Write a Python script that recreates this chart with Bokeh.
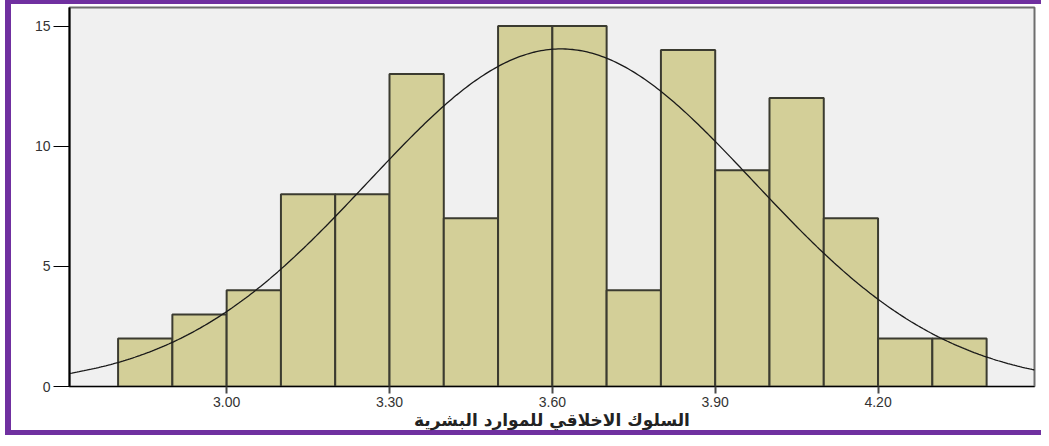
import numpy as np
from bokeh.plotting import figure
from bokeh.models import Range1d, FixedTicker, PrintfTickFormatter, ColumnDataSource
from bokeh.embed import file_html
from bokeh.resources import INLINE

# ---- data ----
bin_left = [2.8, 2.9, 3.0, 3.1, 3.2, 3.3, 3.4, 3.5, 3.6, 3.7, 3.8, 3.9, 4.0, 4.1, 4.2, 4.3]
bin_right = [2.9, 3.0, 3.1, 3.2, 3.3, 3.4, 3.5, 3.6, 3.7, 3.8, 3.9, 4.0, 4.1, 4.2, 4.3, 4.4]
counts = [2, 3, 4, 8, 8, 13, 7, 15, 15, 4, 14, 9, 12, 7, 2, 2]
x_ticks = [3.0, 3.3, 3.6, 3.9, 4.2]
y_ticks = [0, 5, 10, 15]
x_label = "السلوك الاخلاقي للموارد البشرية"
fit_mean = 3.616
fit_sd = 0.355
bin_width = 0.1

X0, X1 = 2.7105, 4.4882
Y0, Y1 = 0, 15.77

W, H = 1041, 438
p = figure(width=W, height=H, output_backend="svg", toolbar_location=None,
           x_range=Range1d(X0, X1), y_range=Range1d(Y0, Y1),
           min_border_left=69, min_border_right=7, min_border_top=7, min_border_bottom=52)

purple = "#7030a0"
g = f"linear-gradient({purple},{purple})"
p.styles = {
    "background": f"{g} 5px 0px / 6px 435px no-repeat, "
                  f"{g} 5px 0px / 100% 4px no-repeat, "
                  f"{g} 5px 430px / 100% 5px no-repeat, white",
}
p.border_fill_color = None

p.background_fill_color = "#f0f0f0"
p.outline_line_color = "#6e6e6e"
p.outline_line_width = 2
p.xgrid.visible = False
p.ygrid.visible = False

src = ColumnDataSource(dict(left=bin_left, right=bin_right, top=counts))
p.quad(left="left", right="right", top="top", bottom=0, source=src,
       fill_color="#d3cf98", line_color="#3b3b30", line_width=2)

n_total = sum(counts)
xs = np.linspace(X0, X1, 400)
ys = n_total * bin_width * np.exp(-0.5 * ((xs - fit_mean) / fit_sd) ** 2) / (fit_sd * np.sqrt(2 * np.pi))
p.line(xs, ys, line_color="#1a1a1a", line_width=1.3)

# x axis
xa = p.xaxis[0]
xa.ticker = FixedTicker(ticks=x_ticks)
xa.formatter = PrintfTickFormatter(format="%.2f")
xa.minor_tick_line_color = None
xa.major_tick_in = 0
xa.major_tick_out = 7
xa.major_tick_line_color = "#4a4a4a"
xa.major_tick_line_width = 2
xa.axis_line_color = "black"
xa.axis_line_width = 1
xa.major_label_text_font = "Liberation Sans"
xa.major_label_text_font_size = "14px"
xa.major_label_text_color = "#333333"
xa.major_label_standoff = 3
xa.axis_label = x_label
xa.axis_label_text_font = "DejaVu Sans"
xa.axis_label_text_font_style = "bold"
xa.axis_label_text_font_size = "17px"
xa.axis_label_text_color = "#222222"
xa.axis_label_standoff = 0

# y axis
ya = p.yaxis[0]
ya.ticker = FixedTicker(ticks=y_ticks)
ya.minor_tick_line_color = None
ya.major_tick_in = 0
ya.major_tick_out = 16
ya.major_tick_line_color = "black"
ya.major_tick_line_width = 1
ya.axis_line_color = "black"
ya.axis_line_width = 2
ya.major_label_text_font = "Liberation Sans"
ya.major_label_text_font_size = "14px"
ya.major_label_text_color = "#333333"
ya.major_label_standoff = 3

open("out.html", "w").write(file_html(p, INLINE))
